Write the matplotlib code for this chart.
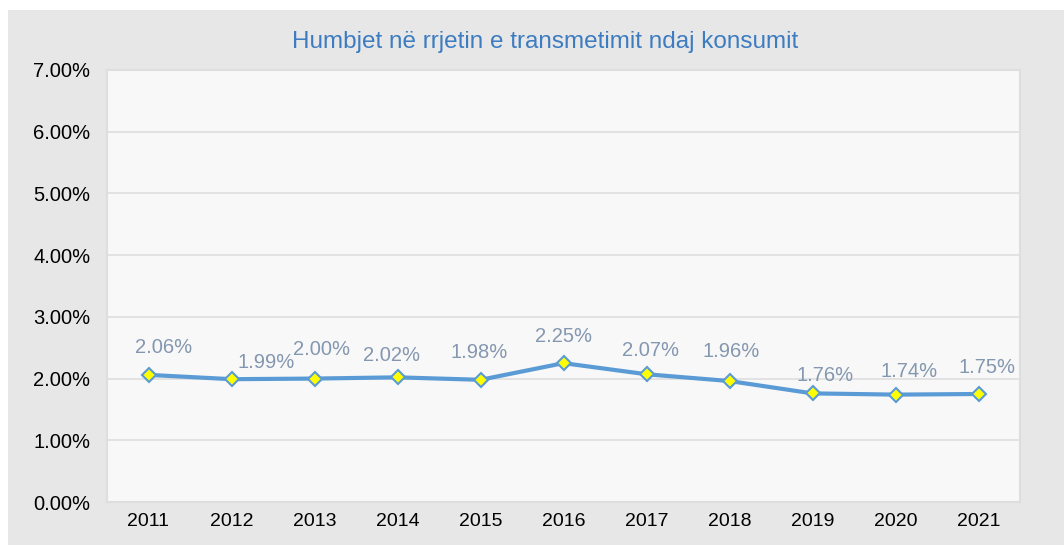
import matplotlib.pyplot as plt
from matplotlib.patches import Rectangle
from matplotlib.ticker import PercentFormatter

years = ['2011', '2012', '2013', '2014', '2015', '2016', '2017', '2018', '2019', '2020', '2021']
losses = [2.06, 1.99, 2.00, 2.02, 1.98, 2.25, 2.07, 1.96, 1.76, 1.74, 1.75]

# label offsets in points (Excel nudged some labels)
offs = [(11, 20), (25, 12), (5, 21), (-4, 16), (-1, 20), (0, 19.5),
        (3, 17), (1, 21), (9, 13), (10, 17), (6, 19)]

plt.rcParams['font.family'] = ['Liberation Sans', 'DejaVu Sans']

fig = plt.figure(figsize=(10.64, 5.45), dpi=100)
fig.patch.set_facecolor('white')
fig.patches.append(Rectangle((8 / 1064, 0), 1 - 8 / 1064, 1 - 10 / 545,
                             transform=fig.transFigure, facecolor='#e7e7e7',
                             edgecolor='none', zorder=-10))

ax = fig.add_axes([107 / 1064, 43 / 545, 913 / 1064, 432 / 545])
ax.set_facecolor('#f8f8f8')
for s in ax.spines.values():
    s.set_color('#dedede')
    s.set_linewidth(1.5)

x = range(len(years))
ax.plot(x, losses, color='#5b9bd5', lw=3, marker='D', ms=7,
        mfc='#ffff00', mec='#5b9bd5', mew=1.5, zorder=3)
for i, v in enumerate(losses):
    ax.annotate(f'{v:.2f}%', (i, v), xytext=offs[i], textcoords='offset points',
                ha='center', va='center', color='#8497b0', fontsize=14.5)

ax.set_xlim(-0.5, len(years) - 0.5)
ax.set_ylim(0, 7)
ax.set_yticks(range(0, 8))
ax.yaxis.set_major_formatter(PercentFormatter(decimals=2))
ax.set_xticks(list(x))
ax.set_xticklabels(years)
ax.grid(axis='y', color='#dedede', lw=1.2)
ax.set_axisbelow(True)
ax.tick_params(length=0, labelsize=14, colors='black', pad=8)
ax.tick_params(axis='y', labelsize=14.5, pad=12)

fig.text(545 / 1064, 1 - 42 / 545, 'Humbjet në rrjetin e transmetimit ndaj konsumit',
         ha='center', va='center', color='#3d7cc1', fontsize=17.5)

fig.savefig('out.png', dpi=100)
